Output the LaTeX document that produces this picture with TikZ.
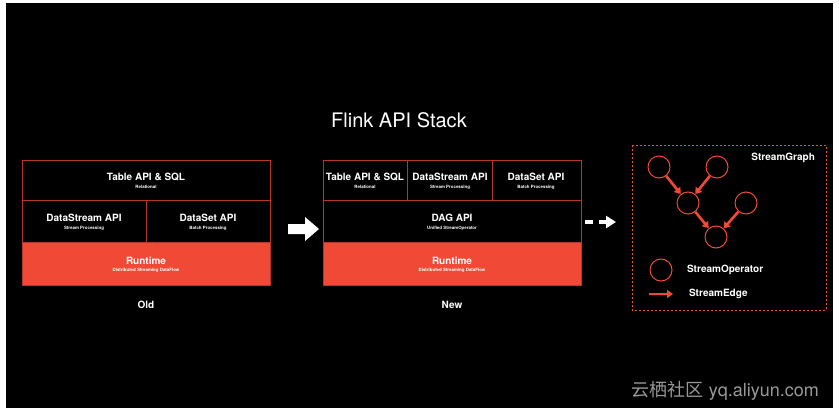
\documentclass[tikz,border=0pt]{standalone}
\usepackage{fontspec}
\setmainfont{TeX Gyre Heros}
\newfontfamily\cjk{Noto Sans CJK SC}
\usetikzlibrary{arrows.meta,positioning}
\definecolor{flinkred}{HTML}{F04A36}
\tikzset{
  layer/.style={draw=flinkred!75!black, line width=0.4pt, inner sep=0pt},
  runtime/.style={layer, fill=flinkred},
  ttl/.style={font=\bfseries\fontsize{5}{6}\selectfont, text=white, align=center},
  sub/.style={font=\bfseries\fontsize{2.2}{3}\selectfont, text=white},
  op/.style={circle, draw=flinkred, line width=0.5pt, minimum size=11pt, inner sep=0pt},
  edge/.style={-{Triangle[length=3pt,width=4pt]}, flinkred, line width=1.3pt}
}
\begin{document}
\begin{tikzpicture}[x=0.5pt, y=-0.5pt]
\useasboundingbox (0,0) rectangle (839,412);
\fill[white] (0,0) rectangle (839,412);
\fill[black] (6,3) rectangle (833,408);
% Title
\node[text=white, font=\fontsize{10}{12}\selectfont] (title) at (399,120) {Flink API Stack};
% Old stack
\draw[layer] (22,160) rectangle (270,200);
\draw[layer] (22,200) rectangle (146,242);
\draw[layer] (146,200) rectangle (270,242);
\draw[runtime] (22,242) rectangle (270,285);
\node[ttl] at (146,177) {Table API \& SQL};
\node[sub] at (146,187) {Relational};
\node[ttl] at (84,218) {DataStream API};
\node[sub] at (84,228) {Stream Processing};
\node[ttl] at (208,218) {DataSet API};
\node[sub] at (208,228) {Batch Processing};
\node[ttl] at (146,261) {Runtime};
\node[sub] at (146,270) {Distributed Streaming DataFlow};
\node[ttl] (old) at (146,305) {Old};
% Arrow
\fill[white] (288,224) -- (305,224) -- (305,217) -- (319,229) -- (305,241) -- (305,234) -- (288,234) -- cycle;
% New stack
\draw[layer] (323,160) rectangle (407,200);
\draw[layer] (407,160) rectangle (492,200);
\draw[layer] (492,160) rectangle (581,200);
\draw[layer] (323,200) rectangle (581,242);
\draw[runtime] (323,242) rectangle (581,285);
\node[ttl] at (365,177) {Table API \& SQL};
\node[sub] at (365,187) {Relational};
\node[ttl] at (450,177) {DataStream API};
\node[sub] at (450,187) {Stream Processing};
\node[ttl] at (536,177) {DataSet API};
\node[sub] at (536,187) {Batch Processing};
\node[ttl] at (452,218) {DAG API};
\node[sub] at (452,228) {Unified StreamOperator};
\node[ttl] at (452,261) {Runtime};
\node[sub] at (452,270) {Distributed Streaming DataFlow};
\node[ttl] (new) at (452,305) {New};
% Dashed arrow
\coordinate (da) at (585,222);
\coordinate (db) at (616,222);
\draw[white, line width=2pt, dash pattern=on 4pt off 3pt, -{Triangle[length=5pt,width=6pt]}] (da) -- (db);
% StreamGraph
\draw[flinkred, line width=0.5pt, dash pattern=on 1pt off 1pt] (632,145) rectangle (826,310);
\node[ttl, anchor=east] (sg) at (822,158) {StreamGraph};
\node[op] (s1) at (659,167) {};
\node[op] (s2) at (717,167) {};
\node[op] (m1) at (688,203) {};
\node[op] (s3) at (746,203) {};
\node[op] (m2) at (716,237) {};
\draw[edge] (s1) -- (m1);
\draw[edge] (s2) -- (m1);
\draw[edge] (m1) -- (m2);
\draw[edge] (s3) -- (m2);
% Legend
\node[op] (lop) at (661,270) {};
\node[ttl, anchor=west] at (680,270) {StreamOperator};
\coordinate (le1) at (649,294);
\coordinate (le2) at (673,294);
\draw[edge] (le1) -- (le2);
\node[ttl, anchor=west] at (682,294) {StreamEdge};
% Watermark
\node[text=gray!80, font=\fontsize{9}{10}\selectfont, anchor=east] at (826,391) {{\cjk 云栖社区} yq.aliyun.com};
\end{tikzpicture}
\end{document}
